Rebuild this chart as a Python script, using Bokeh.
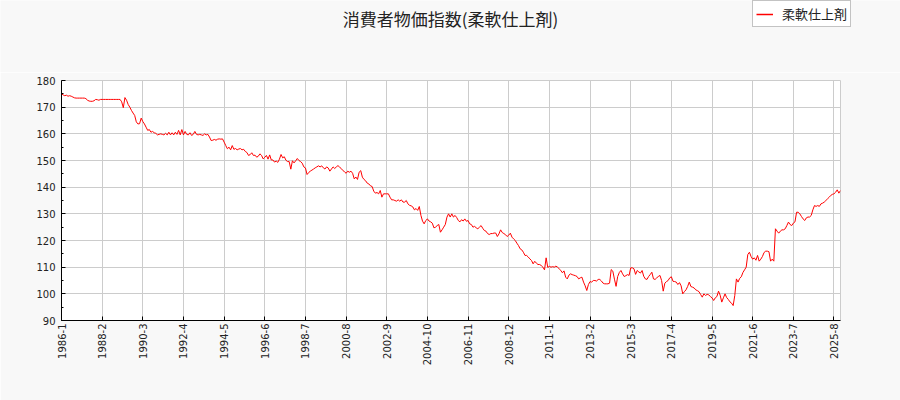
import math
from bokeh.plotting import figure
from bokeh.models import FixedTicker, Legend, LegendItem, ColumnDataSource, Range1d, Label
from bokeh.embed import file_html
from bokeh.resources import INLINE

# Monthly index values, 1986-1 onwards
cpi_1986_1989 = [175.0,174.6,174.3,174.5,174.1,174.3,174.1,173.8,173.5,173.4,
                 173.4,173.4,173.4,173.4,173.4,173.2,172.6,172.3,172.2,172.2,
                 172.4,172.9,172.8,172.6,172.9,172.9,172.9,172.9,172.9,172.9,
                 172.9,172.9,172.9,172.9,172.9,172.9,172.9,172.0,169.8]
cpi_1989_1993 = [173.6,172.6,171.0,170.0,168.8,167.8,166.9,164.5,163.7,163.8,
                 165.9,164.6,163.7,162.5,161.3,161.6,160.6,160.9,160.4,160.2,
                 159.6,159.8,160.0,159.8,159.6,160.2,159.6,160.6,159.6,160.4,
                 159.6,160.6,159.8,161.3,159.6,161.6,159.6,160.9,159.8,159.6,
                 160.4,159.4,159.8,160.9,159.8,159.6,159.8,159.6,159.4]
cpi_1993_1996 = [160.0,159.6,159.8,158.8,157.5,157.6,157.9,157.6,158.0,158.1,
                 158.0,158.1,156.9,155.6,154.4,155.0,154.0,155.6,154.2,154.5,
                 154.0,154.3,154.5,154.0,154.2,153.4,153.0,151.9,152.2,152.9,
                 151.9,152.0,151.25,151.6,152.5,151.9,150.6,151.2,151.9,150.5,
                 152.1,150.2]
cpi_1996_2000 = [150.2,149.4,149.8,149.3,150.5,152.25,151.0,151.4,150.1,149.6,
                 149.6,146.75,149.9,149.1,149.9,150.75,150.0,149.6,149.0,147.6,
                 147.2,144.75,145.5,146.0,146.4,146.8,147.25,147.6,148.0,147.6,
                 148.0,147.25,146.8,147.6,147.2,146.0,146.8,147.6,147.0,147.6]
cpi_2000_2003 = [148.1,147.5,147.0,146.25,145.8,145.2,146.0,145.6,146.0,145.2,
                 143.1,143.8,142.9,145.6,146.2,143.75,142.9,142.4,141.5,141.2,
                 140.5,140.25,138.5,137.75,138.0,137.5,138.75,136.25,137.5,137.5,
                 137.5,137.5,136.25,135.25,135.25,135.0,134.75,135.25,134.75,135.25,
                 134.4,134.4,135.0]
cpi_2003_2007 = [133.75,133.2,133.0,132.6,131.5,132.0,131.3,132.75,129.4,127.25,
                 126.25,127.5,128.1,127.3,127.0,126.5,124.75,125.0,125.6,126.0,
                 123.1,124.0,125.0,126.0,128.75,130.0,128.8,130.0,128.8,129.4,
                 128.6,127.5,127.0,127.8,127.3,128.1,127.2,127.5,126.25,126.0,
                 125.0,125.3,124.75]
cpi_2007_2010 = [124.4,125.0,125.6,124.6,123.75,123.5,122.6,122.25,122.6,122.6,
                 122.8,122.8,121.5,122.5,124.0,123.0,122.6,122.2,121.5,122.0,
                 122.75,121.25,120.6,120.0,119.0,118.1,116.9,116.5,115.6,114.4,
                 114.4,113.8,113.1,112.5,111.25,112.2,111.5,111.0,111.0,110.6,
                 110.0,109.0,113.5]
cpi_2010_2014 = [109.9,110.3,110.0,110.2,110.0,110.4,110.0,109.4,108.8,107.9,
                 108.6,106.25,105.6,107.0,107.5,107.2,107.0,106.8,106.5,105.6,
                 106.0,106.25,104.4,103.0,101.25,103.5,104.6,104.4,105.0,105.0,
                 104.8,105.4,105.4,104.8,104.0,103.75,103.75,103.75,104.0,109.1,
                 108.5,105.5,102.8]
cpi_2014_2018 = [106.5,108.0,108.75,107.5,106.5,106.8,107.2,106.9,109.75,109.75,
                 109.4,107.3,108.75,108.2,107.8,108.75,106.6,105.6,105.4,106.5,
                 107.25,108.1,105.6,105.4,106.0,106.5,106.9,105.0,101.0,104.0,
                 104.6,105.0,106.0,106.4,104.7,104.6,104.4,103.5,104.2,103.0,
                 100.0,100.8,101.5]
cpi_2018_2021 = [102.75,104.4,102.75,102.5,102.2,101.5,101.2,100.8,99.75,98.75,
                 100.0,99.4,99.8,99.6,99.0,98.5,97.5,98.5,99.0,101.0,
                 99.5,96.9,98.5,100.0,98.6,97.9,97.0,96.5,95.6,99.4,
                 105.6,104.4,105.8,106.4,108.0,109.0,110.0,114.75,115.6,114.0,
                 113.0,113.5,112.6,114.4]
cpi_2021_2025 = [112.25,113.0,114.0,115.5,116.0,116.0,115.8,112.25,113.0,112.25,
                 124.4,123.5,122.75,123.5,124.0,124.0,124.4,125.6,126.9,126.0,
                 125.6,126.5,127.0,130.6,130.6,130.0,129.0,128.1,127.5,128.5,
                 128.8,128.8,129.4,131.5,133.1,132.8,133.1,132.8,133.75,134.0,
                 134.4,135.0,135.6,136.2,136.9,137.3,137.5,138.1,139.0,137.75,
                 138.75]

values = (cpi_1986_1989 + cpi_1989_1993 + cpi_1993_1996 + cpi_1996_2000 +
          cpi_2000_2003 + cpi_2003_2007 + cpi_2007_2010 + cpi_2010_2014 +
          cpi_2014_2018 + cpi_2018_2021 + cpi_2021_2025)

tick_labels = ["1986-1", "1988-2", "1990-3", "1992-4", "1994-5", "1996-6",
               "1998-7", "2000-8", "2002-9", "2004-10", "2006-11", "2008-12",
               "2011-1", "2013-2", "2015-3", "2017-4", "2019-5", "2021-6",
               "2023-7", "2025-8"]
tick_step = 25
y_ticks = [90, 100, 110, 120, 130, 140, 150, 160, 170, 180]
title_text = "消費者物価指数(柔軟仕上剤)"
series_name = "柔軟仕上剤"

x = list(range(len(values)))
ticks = [i * tick_step for i in range(len(tick_labels))]
src = ColumnDataSource(dict(x=x, y=values))

FONT = "Noto Sans CJK JP"
BG = "#f8f8f8"
W = 900
HEAD_H = 72

# ---- header strip (separate root, so its frame is the full strip) ----
head = figure(width=W, height=HEAD_H, output_backend="svg", toolbar_location=None,
              x_range=Range1d(0, W), y_range=Range1d(0, HEAD_H),
              x_axis_type=None, y_axis_type=None, min_border=0,
              background_fill_color=BG, border_fill_color=BG)
head.grid.visible = False
head.outline_line_color = None

title = Label(x=W / 2, y=HEAD_H - 18, text=title_text,
              text_font=FONT, text_font_size="17px", text_color="#222222",
              text_align="center", text_baseline="middle")
head.add_layout(title)

# legend proxy: the same series, which lies outside this strip's ranges
legend_line = head.line("x", "y", source=src, line_color="red", line_width=1.5)
legend = Legend(items=[LegendItem(label=series_name, renderers=[legend_line])],
                location=(752, HEAD_H - 27), orientation="vertical")
legend.label_text_font = FONT
legend.label_text_font_size = "13px"
legend.label_text_color = "#222222"
legend.label_height = 12
legend.border_line_color = "#888888"
legend.border_line_width = 1
legend.background_fill_color = "white"
legend.background_fill_alpha = 1
legend.glyph_width = 17
legend.glyph_height = 12
legend.padding = 3
legend.spacing = 0
legend.margin = 0
legend.label_standoff = 9
head.add_layout(legend)

# ---- main chart ----
p = figure(width=W, height=400 - HEAD_H, output_backend="svg", toolbar_location=None,
           x_range=Range1d(0, len(values) - 1), y_range=Range1d(90, 180),
           min_border_left=61, min_border_right=60, min_border_top=8,
           min_border_bottom=80, background_fill_color="white",
           border_fill_color=BG)

r = p.line("x", "y", source=src, line_color="red", line_width=1)

p.xaxis.ticker = FixedTicker(ticks=ticks)
p.xaxis.major_label_overrides = {t: l for t, l in zip(ticks, tick_labels)}
p.xaxis.major_label_orientation = math.pi / 2
p.yaxis.ticker = FixedTicker(ticks=y_ticks, minor_ticks=[v + 5 for v in y_ticks[:-1]])

for ax in (p.xaxis[0], p.yaxis[0]):
    ax.axis_line_color = "black"
    ax.major_tick_in = 4
    ax.major_tick_out = 0
    ax.minor_tick_in = 2
    ax.minor_tick_out = 0
    ax.major_tick_line_color = "black"
    ax.minor_tick_line_color = "black"
    ax.major_label_text_font = "DejaVu Sans"
    ax.major_label_text_font_size = "10px"
    ax.major_label_text_color = "#222222"
p.xaxis.minor_tick_line_color = None
p.xaxis.major_label_standoff = 3
p.yaxis.major_label_standoff = 6

p.xgrid.ticker = FixedTicker(ticks=ticks)
p.ygrid.ticker = FixedTicker(ticks=y_ticks)
p.grid.grid_line_color = "#cccccc"
p.grid.grid_line_width = 1
p.outline_line_color = "#cccccc"

open("out.html", "w").write(file_html([head, p], INLINE))
